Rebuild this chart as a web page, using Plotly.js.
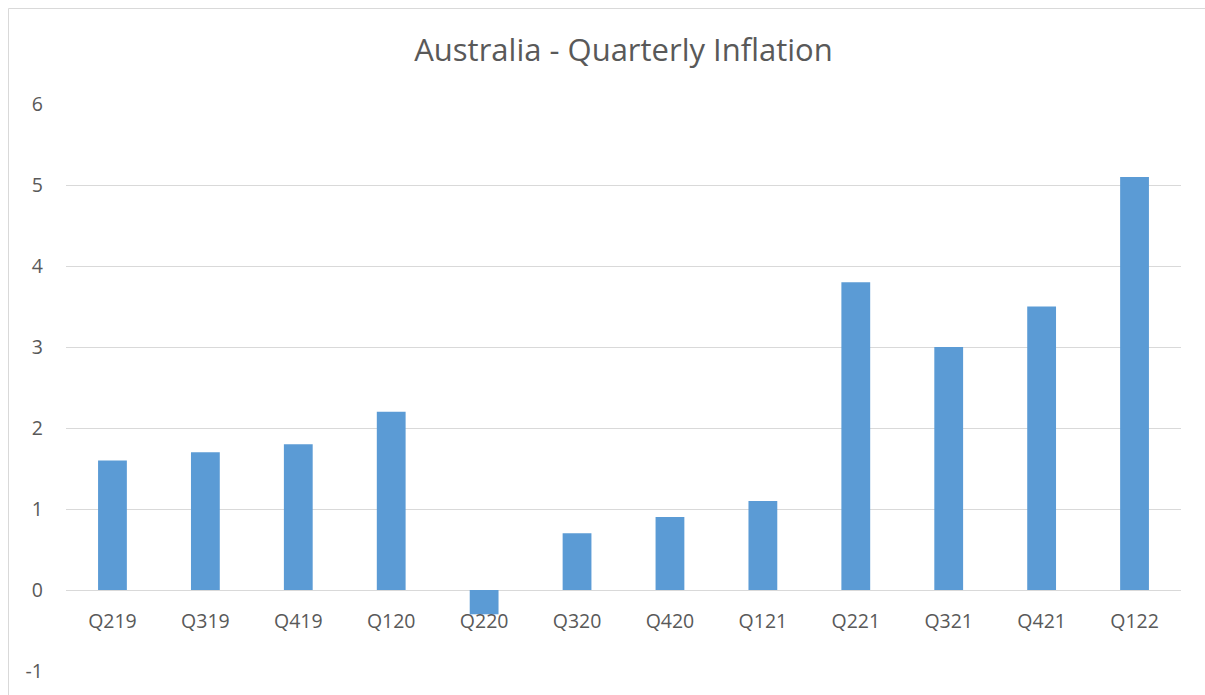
<!DOCTYPE html>
<html>
<head>
<meta charset="utf-8">
<script src="https://cdn.plot.ly/plotly-3.0.1.min.js"></script>
<style>
html,body{margin:0;padding:0;background:#fff;}
#chart{width:1205px;height:695px;}
</style>
</head>
<body>
<div id="chart"></div>
<script>
const categories = ["Q219","Q319","Q419","Q120","Q220","Q320","Q420","Q121","Q221","Q321","Q421","Q122"];
const inflation = [1.6, 1.7, 1.8, 2.2, -0.3, 0.7, 0.9, 1.1, 3.8, 3.0, 3.5, 5.1];
const yTicks = [-1, 0, 1, 2, 3, 4, 5, 6];
const chartTitle = "Australia - Quarterly Inflation";

const W = 1205, H = 695;
const m = {l: 66, r: 24, t: 104, b: 24};
const pw = W - m.l - m.r, ph = H - m.t - m.b;
const px2x = p => (p - m.l) / pw;
const py2y = p => (H - m.b - p) / ph;

const trace = {
  type: 'bar',
  x: categories,
  y: inflation,
  marker: {color: '#5B9BD5'},
  hoverinfo: 'x+y'
};

const font = "'Open Sans', sans-serif";

const layout = {
  width: W, height: H,
  margin: m,
  paper_bgcolor: '#ffffff',
  plot_bgcolor: '#ffffff',
  showlegend: false,
  bargap: 0.69,
  font: {family: font, color: '#595959', size: 19},
  title: {
    text: chartTitle,
    font: {family: font, size: 31, color: '#595959'},
    x: 0.5, xref: 'paper', xanchor: 'center',
    y: 1 - 50 / H, yref: 'container', yanchor: 'middle'
  },
  xaxis: {
    type: 'category',
    anchor: 'free',
    position: py2y(590),
    showgrid: false,
    showline: false,
    zeroline: false,
    ticks: '',
    ticklabelstandoff: 17,
    tickfont: {family: font, size: 19.5, color: '#595959'},
    fixedrange: true
  },
  yaxis: {
    range: [-1, 6],
    tickvals: yTicks,
    ticktext: yTicks.map(String),
    showgrid: true,
    gridcolor: '#d9d9d9',
    gridwidth: 1,
    zeroline: true,
    zerolinecolor: '#d9d9d9',
    zerolinewidth: 1,
    showline: false,
    ticks: '',
    ticklabelstandoff: 22,
    tickfont: {family: font, size: 19.5, color: '#595959'},
    fixedrange: true
  },
  shapes: [
    {type: 'line', xref: 'paper', yref: 'paper', layer: 'below',
     x0: px2x(8.5), x1: px2x(8.5), y0: py2y(700), y1: py2y(8.5),
     line: {color: '#d9d9d9', width: 1}},
    {type: 'line', xref: 'paper', yref: 'paper', layer: 'below',
     x0: px2x(8.5), x1: px2x(1210), y0: py2y(8.5), y1: py2y(8.5),
     line: {color: '#d9d9d9', width: 1}}
  ]
};

Plotly.newPlot('chart', [trace], layout, {displayModeBar: false, staticPlot: true});
</script>
</body>
</html>
